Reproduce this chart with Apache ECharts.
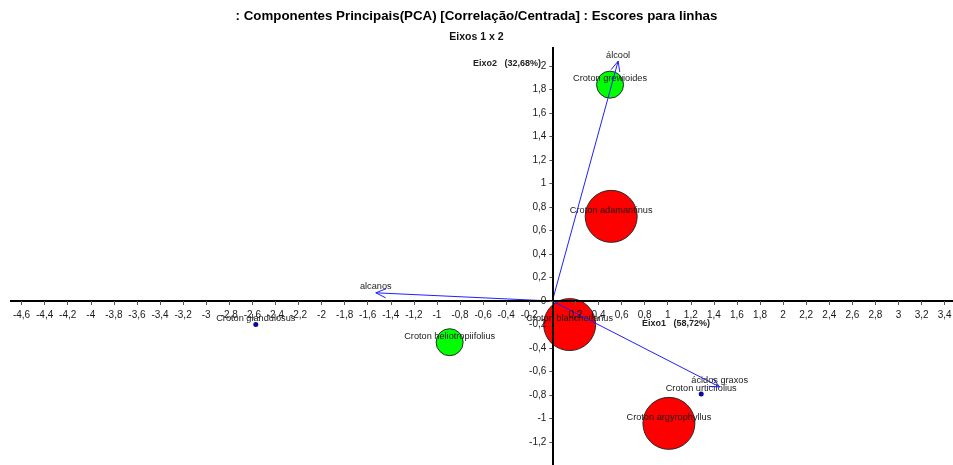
<!DOCTYPE html>
<html>
<head>
<meta charset="utf-8">
<script src="https://cdn.jsdelivr.net/npm/echarts@6/dist/echarts.min.js"></script>
<style>
html,body{margin:0;padding:0;background:#fff;}
#chart{width:953px;height:465px;}
</style>
</head>
<body>
<div id="chart"></div>
<script>
// ---- data ----
const especies = ['Croton grewioides','Croton adamantinus','Croton blanchetianus','Croton argyrophyllus','Croton urticifolius','Croton glandulosus','Croton heliotropiifolius'];
const eixo1 = [0.50, 0.51, 0.15, 1.01, 1.29, -2.57, -0.89];
const eixo2 = [1.84, 0.72, -0.20, -1.04, -0.79, -0.20, -0.35];
const grupo = ['verde','vermelho','vermelho','vermelho','azul','azul','verde'];

const variaveis = ['álcool','alcanos','ácidos graxos'];
const varEixo1 = [0.57, -1.53, 1.45];
const varEixo2 = [2.04, 0.07, -0.73];

const xTicks = [-4.6,-4.4,-4.2,-4,-3.8,-3.6,-3.4,-3.2,-3,-2.8,-2.6,-2.4,-2.2,-2,-1.8,-1.6,-1.4,-1.2,-1,-0.8,-0.6,-0.4,-0.2,0,0.2,0.4,0.6,0.8,1,1.2,1.4,1.6,1.8,2,2.2,2.4,2.6,2.8,3,3.2,3.4];
const xTickLabels = [-4.6,-4.4,-4.2,-4,-3.8,-3.6,-3.4,-3.2,-3,-2.8,-2.6,-2.4,-2.2,-2,-1.8,-1.6,-1.4,-1.2,-1,-0.8,-0.6,-0.4,-0.2,0.2,0.4,0.6,0.8,1,1.2,1.4,1.6,1.8,2,2.2,2.4,2.6,2.8,3,3.2,3.4];
const yTicks = [-1.2,-1,-0.8,-0.6,-0.4,-0.2,0,0.2,0.4,0.6,0.8,1,1.2,1.4,1.6,1.8,2];

const titulo = ': Componentes Principais(PCA) [Correlação/Centrada] : Escores para linhas';
const subtitulo = 'Eixos 1 x 2';
const nomeEixo1 = 'Eixo1   (58,72%)';
const nomeEixo2 = 'Eixo2   (32,68%)';

// ---- layout ----
const W = 953, H = 465;
const G = {left: 10, right: 0, top: 47, bottom: 0};
const XR = [-4.7, 3.472], YR = [-1.394, 2.16];
const gw = W - G.left - G.right, gh = H - G.top - G.bottom;
const x0px = G.left + (0 - XR[0]) / (XR[1] - XR[0]) * gw;
const y0px = G.top + (YR[1] - 0) / (YR[1] - YR[0]) * gh;
const xAxisOffset = -(H - G.bottom - y0px);
const yAxisOffset = -(x0px - G.left);

// ---- styles ----
const FONT = '"Liberation Sans", Arial, sans-serif';
const estilos = {
  verde:    {color:'#00ff00', size:27, border:'#2a2a2a', bw:1},
  vermelho: {color:'#ff0000', size:52, border:'#2a2a2a', bw:1},
  azul:     {color:'#0a0aa0', size:5,  border:'#0a0aa0', bw:0}
};
const fmt = v => String(Math.round(v*10)/10).replace('.', ',');

const pontos = especies.map((n,i) => ({
  name: n,
  value: [eixo1[i], eixo2[i]],
  symbolSize: estilos[grupo[i]].size,
  itemStyle: {color: estilos[grupo[i]].color, borderColor: estilos[grupo[i]].border, borderWidth: estilos[grupo[i]].bw, opacity: 1}
}));
const vetores = variaveis.map((n,i) => [varEixo1[i], varEixo2[i], n]);

const chart = echarts.init(document.getElementById('chart'), null, {renderer:'canvas'});
chart.setOption({
  animation: false,
  backgroundColor: '#fff',
  title: [
    {text: titulo, left: 'center', top: 5, textStyle: {fontFamily: FONT, fontSize: 13.3, fontWeight: 'bold', color: '#000'}},
    {text: subtitulo, left: 'center', top: 27, textStyle: {fontFamily: FONT, fontSize: 10.5, fontWeight: 'bold', color: '#111'}}
  ],
  grid: {left: G.left, right: G.right, top: G.top, bottom: G.bottom, containLabel: false, outerBoundsMode: 'none'},
  xAxis: {
    type: 'value', min: XR[0], max: XR[1], z: 5, position: 'bottom', offset: xAxisOffset,
    axisLine: {show: true, onZero: false, lineStyle: {color: '#000', width: 2, opacity: 0}},
    axisTick: {show: true, customValues: xTicks, length: 4, lineStyle: {color: '#555', width: 1}},
    axisLabel: {customValues: xTickLabels, formatter: fmt, fontFamily: FONT, fontSize: 10, color: '#1a1a1a', margin: 9},
    splitLine: {show: false}
  },
  yAxis: {
    type: 'value', min: YR[0], max: YR[1], z: 5, position: 'left', offset: yAxisOffset,
    axisLine: {show: true, onZero: false, lineStyle: {color: '#000', width: 2, opacity: 0}},
    axisTick: {show: true, customValues: yTicks, length: 3, lineStyle: {color: '#555', width: 1}},
    axisLabel: {customValues: yTicks, formatter: fmt, fontFamily: FONT, fontSize: 10, color: '#1a1a1a', margin: 6},
    splitLine: {show: false}
  },
  graphic: [
    {type: 'text', left: 642, top: 319, style: {text: nomeEixo1, font: 'bold 9px ' + FONT, fill: '#222'}},
    {type: 'text', left: 473, top: 59, style: {text: nomeEixo2, font: 'bold 9px ' + FONT, fill: '#222'}}
  ],
  series: [
    {
      type: 'scatter', z: 2,
      symbol: 'circle',
      data: pontos,
      label: {show: true, formatter: p => p.name, position: 'inside', offset: [0, -6],
              fontFamily: FONT, fontSize: 9.2, color: '#1a1a1a'},
      emphasis: {disabled: true}
    },
    {
      type: 'custom', z: 3, clip: false,
      data: vetores,
      renderItem: function (params, api) {
        const o = api.coord([0, 0]);
        const t = api.coord([api.value(0), api.value(1)]);
        const a = Math.atan2(t[1] - o[1], t[0] - o[0]);
        const L = 11, s = 0.42;
        const p1 = [t[0] - L * Math.cos(a - s), t[1] - L * Math.sin(a - s)];
        const p2 = [t[0] - L * Math.cos(a + s), t[1] - L * Math.sin(a + s)];
        const ls = {stroke: '#2020ff', lineWidth: 1};
        return {type: 'group', children: [
          {type: 'line', shape: {x1: o[0], y1: o[1], x2: t[0], y2: t[1]}, style: ls},
          {type: 'line', shape: {x1: t[0], y1: t[1], x2: p1[0], y2: p1[1]}, style: ls},
          {type: 'line', shape: {x1: t[0], y1: t[1], x2: p2[0], y2: p2[1]}, style: ls},
          {type: 'text', x: t[0], y: t[1] - 6, style: {text: api.value(2), fill: '#1a1a1a', font: '9.2px ' + FONT, align: 'center', verticalAlign: 'middle'}}
        ]};
      },
      markLine: {
        silent: true, symbol: 'none', label: {show: false},
        lineStyle: {color: '#000', width: 2, type: 'solid'},
        data: [{xAxis: 0}, {yAxis: 0}]
      }
    }
  ]
});
</script>
</body>
</html>
